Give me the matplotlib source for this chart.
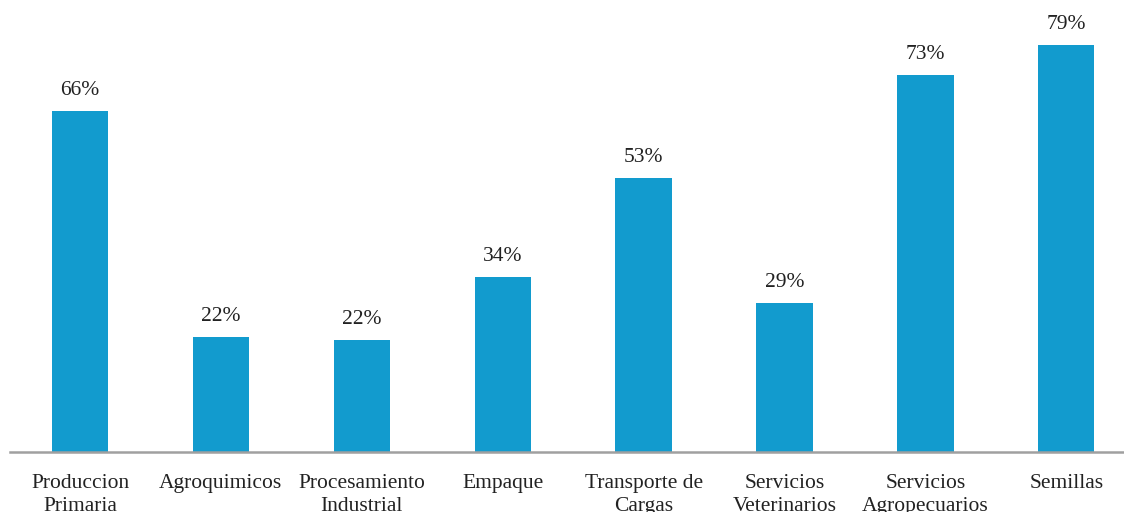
import matplotlib.pyplot as plt

categories = ['Produccion\nPrimaria', 'Agroquimicos', 'Procesamiento\nIndustrial', 'Empaque',
              'Transporte de\nCargas', 'Servicios\nVeterinarios', 'Servicios\nAgropecuarios', 'Semillas']
values = [66.2, 22.3, 21.7, 34.0, 53.2, 28.9, 73.2, 79.0]
labels = ['66%', '22%', '22%', '34%', '53%', '29%', '73%', '79%']

plt.rcParams['font.family'] = ['Liberation Serif', 'DejaVu Serif']

W, H = 1124, 512
fig = plt.figure(figsize=(W / 100, H / 100), dpi=100)
# axes in pixel terms: x slots 140.9 px wide, baseline 60 px from bottom
slot = 140.9
left = 80 - slot / 2
ax = fig.add_axes([left / W, 60 / H, 8 * slot / W, 5.15 * 90 / H])

x = range(len(categories))
bars = ax.bar(x, values, width=0.4, color='#129BCE')
for b, lab in zip(bars, labels):
    ax.annotate(lab, (b.get_x() + b.get_width() / 2, b.get_height()),
                xytext=(0, 8), textcoords='offset points',
                ha='center', va='bottom', fontsize=15.5, color='#222222')

ax.set_xlim(-0.5, 7.5)
ax.set_ylim(0, 90)
ax.set_xticks(list(x))
ax.set_xticklabels(categories, fontsize=15.5, color='#222222', linespacing=1.3)
ax.tick_params(axis='x', length=0, pad=15.5)
ax.set_yticks([])
for s in ['top', 'right', 'left']:
    ax.spines[s].set_visible(False)
ax.spines['bottom'].set_color('#A0A0A0')
ax.spines['bottom'].set_linewidth(1.8)

fig.savefig('out.png', dpi=100)
